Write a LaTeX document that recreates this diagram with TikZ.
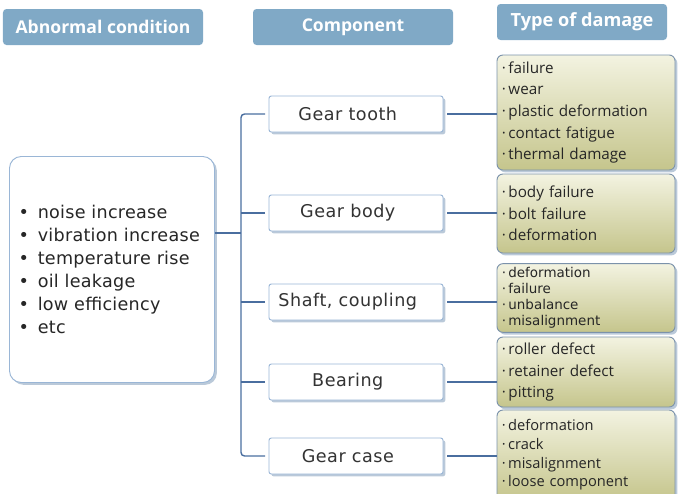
\documentclass[tikz,border=0pt]{standalone}
\usepackage{fontspec}
\setmainfont{Open Sans}
\newfontfamily\compfont[LetterSpace=3]{DejaVu Sans}
\newfontfamily\condfont[LetterSpace=1.5]{DejaVu Sans}
\newfontfamily\widefont{DejaVu Sans}
\usepackage{tikz}
\usetikzlibrary{positioning, shadows}

\definecolor{headblue}{HTML}{80A9C6}
\definecolor{linkblue}{HTML}{4A6E9F}
\definecolor{edgeblue}{HTML}{9AB6D6}
\definecolor{shadeblue}{HTML}{A9BCD0}
\definecolor{oliveTop}{HTML}{F3F3E1}
\definecolor{oliveBot}{HTML}{C5C58C}

\begin{document}
\begin{tikzpicture}[
  x=0.03cm, y=-0.03cm,
  header/.style={
    rectangle, rounded corners=3pt, fill=headblue,
    minimum width=6cm, minimum height=1.08cm,
    font=\bfseries\fontsize{15}{17}\selectfont, text=white
  },
  compbox/.style={
    rectangle, rounded corners=2pt,
    draw=edgeblue, fill=white, line width=0.8pt,
    drop shadow={shadow xshift=2pt, shadow yshift=-2pt, fill=shadeblue, opacity=0.8},
    minimum width=5.22cm, minimum height=1.08cm,
    font=\compfont\fontsize{15}{17}\selectfont, text=black!80,
    execute at end node=\hspace{14pt}
  },
  condbox/.style={
    rectangle, rounded corners=10pt,
    draw=edgeblue, fill=white, line width=0.8pt,
    drop shadow={shadow xshift=2pt, shadow yshift=-2pt, fill=shadeblue, opacity=0.8},
    minimum width=6.15cm, minimum height=6.78cm,
    align=left, text width=5.6cm, text=black!85,
    font=\condfont\fontsize{15}{19.5}\selectfont
  },
  damagebox/.style={
    rectangle, rounded corners=5pt,
    draw=edgeblue!80!black, line width=0.8pt,
    top color=oliveTop, bottom color=oliveBot,
    drop shadow={shadow xshift=2pt, shadow yshift=-2pt, fill=shadeblue, opacity=0.8},
    minimum width=5.34cm, align=left, text width=5.05cm, text=black!85,
    font=\fontsize{13}{18.5}\selectfont
  },
  link/.style={draw=linkblue, line width=1.2pt}
]
\useasboundingbox (0,0) rectangle (683,493);

% Headers
\node[header] (H1) at (103,27) {Abnormal condition};
\node[header] (H2) at (353,27) {Component};
\node[header, minimum width=5.1cm, font=\bfseries\fontsize{15.5}{17}\selectfont] (H3) at (582,22) {Type of damage};

% Abnormal condition
\node[condbox] (cond) at (112,269.5) {%
  \textbullet\enspace noise increase\\
  \textbullet\enspace vibration increase\\
  \textbullet\enspace temperature rise\\
  \textbullet\enspace oil leakage\\
  \textbullet\enspace low efficiency\\
  \textbullet\enspace etc\\[2.2em]};

% Components
\node[compbox] (gt) at (356,114) {Gear tooth};
\node[compbox] (gb) at (356,213) {Gear body};
\node[compbox] (sc) at (356,302) {Shaft, coupling};
\node[compbox] (br) at (356,382) {Bearing};
\node[compbox] (gc) at (356,456) {Gear case};

% Types of damage
\node[damagebox, minimum height=3.45cm] (dgt) at (586,112.5) {%
  ·\,failure\\ ·\,wear\\ ·\,plastic deformation\\
  ·\,contact fatigue\\ ·\,thermal damage};
\node[damagebox, minimum height=2.37cm] (dgb) at (586,213.5) {%
  ·\,body failure\\ ·\,bolt failure\\ ·\,deformation};
\node[damagebox, minimum height=2.04cm, font=\widefont\fontsize{11.5}{13.6}\selectfont] (dsc) at (586,298) {%
  ·\,deformation\\ ·\,failure\\ ·\,unbalance\\ ·\,misalignment};
\node[damagebox, minimum height=2.1cm] (dbr) at (586,372) {%
  ·\,roller defect\\ ·\,retainer defect\\ ·\,pitting};
\node[damagebox, minimum height=2.7cm, font=\fontsize{12.5}{16}\selectfont] (dgc) at (586,455) {%
  ·\,deformation\\ ·\,crack\\ ·\,misalignment\\ ·\,loose component};

% Tree connectors
\coordinate (tj) at (241,233);
\draw[link] (tj -| cond.east) -- (tj);
\draw[link, rounded corners=3pt, shorten <=3pt, shorten >=3pt] (gt.west) -| (tj) |- (gc.west);
\draw[link, shorten <=3pt] (gb.west) -- (gb.west -| tj);
\draw[link, shorten <=3pt] (sc.west) -- (sc.west -| tj);
\draw[link, shorten <=3pt] (br.west) -- (br.west -| tj);

\draw[link] (gt.east) ++(4,0) -- (gt.east -| dgt.west);
\draw[link] (gb.east) ++(4,0) -- (gb.east -| dgb.west);
\draw[link] (sc.east) ++(4,0) -- (sc.east -| dsc.west);
\draw[link] (br.east) ++(4,0) -- (br.east -| dbr.west);
\draw[link] (gc.east) ++(4,0) -- (gc.east -| dgc.west);

\end{tikzpicture}
\end{document}
